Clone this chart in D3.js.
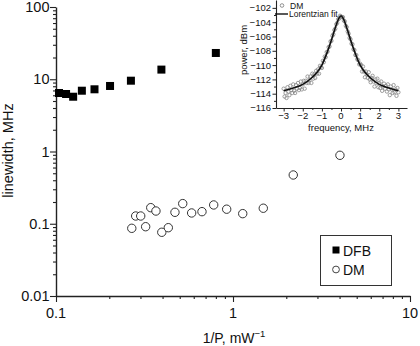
<!DOCTYPE html>
<html>
<head>
<meta charset="utf-8">
<script src="https://cdn.jsdelivr.net/npm/d3@7"></script>
<style>
  html, body { margin: 0; padding: 0; background: #fff; }
  svg { display: block; font-family: "Liberation Sans", Arial, Helvetica, sans-serif; }
  .axis path, .axis line { stroke: #222; }
  .axis text { fill: #111; }
</style>
</head>
<body>
<svg id="chart" width="420" height="346"></svg>
<script>
// Linewidth vs inverse output power
const dfbInvPower = [0.104, 0.114, 0.125, 0.140, 0.165, 0.202, 0.265, 0.394, 0.80];
const dfbLinewidth = [6.45, 6.25, 5.73, 6.94, 7.26, 8.07, 9.55, 13.6, 23.1];

const dmInvPower = [0.268, 0.282, 0.301, 0.321, 0.343, 0.367, 0.396, 0.431, 0.470,
                    0.520, 0.584, 0.668, 0.778, 0.921, 1.135, 1.483, 2.19, 4.02];
const dmLinewidth = [0.0865, 0.128, 0.128, 0.091, 0.167, 0.150, 0.0762, 0.0882, 0.144,
                     0.190, 0.141, 0.147, 0.182, 0.159, 0.138, 0.164, 0.473, 0.886];

const xTickLabels = [0.1, 1, 10];
const yTickLabels = [0.01, 0.1, 1, 10, 100];

// Inset: DM beat-note spectrum and its Lorentzian fit
const spectrumStart = -3;      // MHz
const spectrumStep = 0.05;     // MHz
const spectrumPower = [
  -113.3, -114.4, -113.9, -114.6, -113.1, -113.7, -114.2, -112.9, -113.5, -113.9,
  -112.7, -113.6, -113.9, -112.8, -113.3, -112.5, -113.5, -113.2, -112.3, -113.4,
  -112.7, -112.2, -113.3, -112.2, -112.5, -111.6, -112.5, -112.1, -111.6, -112.5,
  -111.2, -111.9, -111.3, -111.8, -110.8, -111.2, -110.6, -111.2, -110.1, -110.3,
  -110.4, -109.4, -109.6, -108.8, -108.9, -108.2, -108.1, -107.5, -107.4, -106.7,
  -106.6, -105.9, -105.7, -105.1, -104.9, -104.3, -104.1, -103.6, -103.5, -103.1,
  -103.2, -103.3, -103.3, -103.8, -103.9, -104.5, -104.7, -105.3, -105.6, -106.2,
  -106.4, -107.0, -107.1, -107.8, -107.9, -108.6, -108.6, -109.2, -109.3, -109.9,
  -109.8, -110.0, -110.9, -110.2, -110.9, -111.7, -110.9, -111.3, -111.8, -111.0,
  -112.0, -112.4, -111.8, -111.5, -112.3, -113.0, -112.0, -112.5, -111.9, -113.1,
  -112.5, -113.2, -112.3, -113.6, -113.0, -112.6, -113.3, -112.9, -113.7, -112.7,
  -113.4, -114.2, -113.0, -113.4, -113.9, -112.8, -113.8, -113.4, -114.3, -113.2,
  -113.8
];
const fitFreq = [-3, -2.5, -2, -1.5, -1.25, -1, -0.75, -0.5, -0.35, -0.2, -0.1, 0,
                 0.1, 0.2, 0.35, 0.5, 0.75, 1, 1.25, 1.5, 2, 2.5, 3];
const fitPower = [-113.6, -113.2, -112.7, -111.7, -111.0, -110.0, -108.4, -106.5, -105.2, -104.0, -103.4, -103.1,
                  -103.4, -104.0, -105.2, -106.5, -108.4, -110.0, -111.0, -111.7, -112.7, -113.2, -113.6];
const insetFreqTicks = [-3, -2, -1, 0, 1, 2, 3];
const insetPowerTicks = [-116, -114, -112, -110, -108, -106, -104, -102];

const svg = d3.select("#chart");

// ---------- main log-log panel ----------
const x = d3.scaleLog().domain([0.1, 10]).range([56, 410]);
const y = d3.scaleLog().domain([0.01, 100]).range([296, 7]);

function logTicks(lo, hi) {
  const out = [];
  for (let d = lo; d < hi * 1.0001; d *= 10) {
    for (let m = 1; m <= 9; m++) {
      const v = d * m;
      if (v <= hi * 1.0001) out.push(v);
      if (v >= hi * 0.9999) break;
    }
  }
  return out;
}
const isMajor = v => Math.abs(Math.log10(v) - Math.round(Math.log10(v))) < 1e-6;

const xAxis = svg.append("g").attr("class", "axis").attr("transform", "translate(0,296)")
  .call(d3.axisBottom(x).tickValues(logTicks(0.1, 10)).tickSize(3).tickSizeOuter(0).tickFormat(""));
xAxis.selectAll(".tick line").filter(isMajor).attr("y2", 6);
xAxis.select(".domain").attr("stroke-width", 1.4);
xAxis.selectAll(".tick line").attr("stroke-width", 1.1);

const yAxis = svg.append("g").attr("class", "axis").attr("transform", "translate(56,0)")
  .call(d3.axisLeft(y).tickValues(logTicks(0.01, 100)).tickSize(3).tickSizeOuter(0).tickFormat(""));
yAxis.selectAll(".tick line").filter(isMajor).attr("x2", -6);
yAxis.select(".domain").attr("stroke-width", 1.4);
yAxis.selectAll(".tick line").attr("stroke-width", 1.1);

const fmt = v => String(+v.toPrecision(3));
svg.append("g").selectAll("text").data(xTickLabels).join("text")
  .attr("x", d => x(d)).attr("y", 318).attr("text-anchor", "middle")
  .attr("font-size", 14.5).attr("fill", "#111").text(fmt);
svg.append("g").selectAll("text").data(yTickLabels).join("text")
  .attr("x", 49.5).attr("y", d => y(d)).attr("dy", "0.36em").attr("text-anchor", "end")
  .attr("font-size", 14.5).attr("fill", "#111").text(fmt);

const xTitle = svg.append("text").attr("x", 234).attr("y", 343).attr("text-anchor", "middle")
  .attr("font-size", 14).attr("fill", "#111");
xTitle.append("tspan").text("1/P, mW");
xTitle.append("tspan").attr("font-size", 9.5).attr("dy", -6).text("\u22121");

svg.append("text").attr("transform", "translate(13,150.5) rotate(-90)")
  .attr("text-anchor", "middle").attr("font-size", 14.5).attr("fill", "#111")
  .text("linewidth, MHz");

// DFB: filled squares
const sq = 8;
svg.append("g").selectAll("rect").data(dfbInvPower).join("rect")
  .attr("x", (d) => x(d) - sq / 2)
  .attr("y", (d, i) => y(dfbLinewidth[i]) - sq / 2)
  .attr("width", sq).attr("height", sq).attr("fill", "#000");

// DM: open circles
svg.append("g").selectAll("circle").data(dmInvPower).join("circle")
  .attr("cx", d => x(d)).attr("cy", (d, i) => y(dmLinewidth[i])).attr("r", 4.2)
  .attr("fill", "#fff").attr("stroke", "#333").attr("stroke-width", 1);

// legend
const lg = svg.append("g");
lg.append("rect").attr("x", 320.5).attr("y", 235.5).attr("width", 71).attr("height", 50)
  .attr("fill", "#fff").attr("stroke", "#333").attr("stroke-width", 1);
lg.append("rect").attr("x", 332.5).attr("y", 246.5).attr("width", 7).attr("height", 7).attr("fill", "#000");
lg.append("text").attr("x", 343).attr("y", 255.5).attr("font-size", 14).attr("fill", "#111").text("DFB");
lg.append("circle").attr("cx", 336).attr("cy", 269.5).attr("r", 3.4)
  .attr("fill", "#fff").attr("stroke", "#444").attr("stroke-width", 1);
lg.append("text").attr("x", 343).attr("y", 274.5).attr("font-size", 14).attr("fill", "#111").text("DM");

// ---------- inset spectrum ----------
const ix = d3.scaleLinear().domain([-3.4, 3.45]).range([276, 407]);
const iy = d3.scaleLinear().domain([-116, -100.9]).range([108, 0]);

const halfSteps = d3.range(-3, 3.01, 0.5);
const ixAxis = svg.append("g").attr("class", "axis").attr("transform", "translate(0,108)")
  .call(d3.axisBottom(ix).tickValues(halfSteps).tickSize(2).tickSizeOuter(0).tickFormat(""));
ixAxis.selectAll(".tick line").filter(d => Number.isInteger(d)).attr("y2", 3.5);
ixAxis.select(".domain").attr("stroke-width", 1.1);

const oddSteps = d3.range(-116, -101.5, 1);
const iyAxis = svg.append("g").attr("class", "axis").attr("transform", "translate(276,0)")
  .call(d3.axisLeft(iy).tickValues(oddSteps).tickSize(2).tickSizeOuter(0).tickFormat(""));
iyAxis.selectAll(".tick line").filter(d => d % 2 === 0).attr("x2", -3.5);
iyAxis.select(".domain").attr("stroke-width", 1.1);

const ifmt = d3.format("d");
svg.append("g").selectAll("text").data(insetFreqTicks).join("text")
  .attr("x", d => ix(d)).attr("y", 119).attr("text-anchor", "middle")
  .attr("font-size", 9.5).attr("fill", "#111").text(ifmt);
svg.append("g").selectAll("text").data(insetPowerTicks).join("text")
  .attr("x", 271).attr("y", d => iy(d)).attr("dy", "0.36em").attr("text-anchor", "end")
  .attr("font-size", 9.5).attr("fill", "#111").text(ifmt);

svg.append("text").attr("x", 341).attr("y", 131).attr("text-anchor", "middle")
  .attr("font-size", 9.5).attr("fill", "#111").text("frequency, MHz");
svg.append("text").attr("transform", "translate(247,50) rotate(-90)").attr("text-anchor", "middle")
  .attr("font-size", 9.5).attr("fill", "#111").text("power, dBm");

// measured spectrum points
svg.append("g").selectAll("circle").data(spectrumPower).join("circle")
  .attr("cx", (d, i) => ix(spectrumStart + i * spectrumStep)).attr("cy", d => iy(d)).attr("r", 1.7)
  .attr("fill", "none").attr("stroke", "#888").attr("stroke-width", 0.8);

// Lorentzian fit
svg.append("path")
  .datum(fitFreq.map((f, i) => [f, fitPower[i]]))
  .attr("d", d3.line().x(d => ix(d[0])).y(d => iy(d[1])).curve(d3.curveMonotoneX))
  .attr("fill", "none").attr("stroke", "#111").attr("stroke-width", 1.6);

// inset legend
const il = svg.append("g");
il.append("circle").attr("cx", 282).attr("cy", 5.5).attr("r", 1.8)
  .attr("fill", "none").attr("stroke", "#777").attr("stroke-width", 0.8);
il.append("text").attr("x", 290).attr("y", 5.5).attr("dy", "0.36em")
  .attr("font-size", 8.5).attr("fill", "#111").text("DM");
il.append("line").attr("x1", 275).attr("x2", 288).attr("y1", 14).attr("y2", 14)
  .attr("stroke", "#111").attr("stroke-width", 1.4);
il.append("text").attr("x", 289).attr("y", 14).attr("dy", "0.36em")
  .attr("font-size", 8.5).attr("fill", "#111").text("Lorentzian fit");
</script>
</body>
</html>
